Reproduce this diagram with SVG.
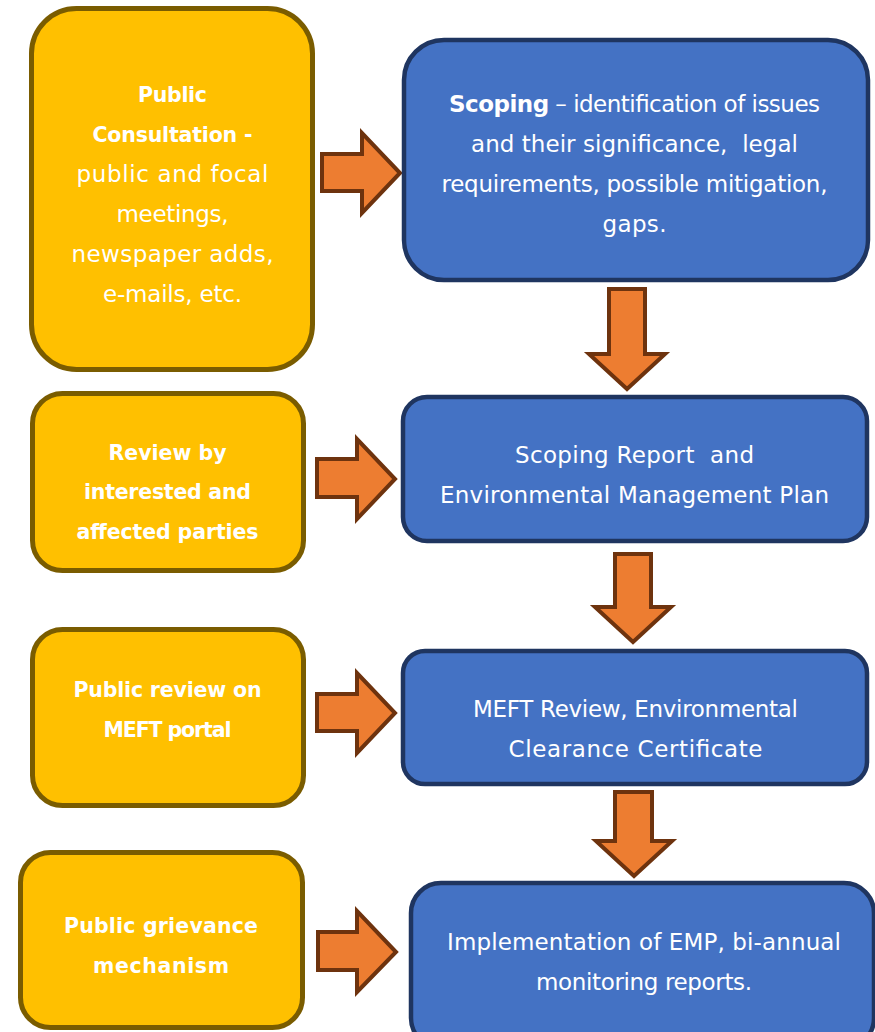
<svg xmlns="http://www.w3.org/2000/svg" width="875" height="1032" viewBox="0 0 875 1032">
<style>
.y{fill:#FFC000;stroke:#7A5C00;stroke-width:5}
.b{fill:#4472C4;stroke:#1F3560;stroke-width:4.5}
.ar{fill:#ED7D31;stroke:#6E330E;stroke-width:4;stroke-linejoin:miter}
text{font-family:"DejaVu Sans","Liberation Sans",sans-serif;fill:#FFFFFF;text-anchor:middle}
.r{font-size:23px}
.bd{font-size:20.5px;font-weight:bold}
</style>
<rect width="875" height="1032" fill="#FFFFFF"/>
<g id="connectors">
<path class="ar" d="M322,154 H362 V133 L400,173 L362,213 V191 H322 Z"/>
<path class="ar" d="M317,459 H357 V439 L395,479 L357,519 V497 H317 Z"/>
<path class="ar" d="M317,694 H357 V673 L395,713 L357,753 V731 H317 Z"/>
<path class="ar" d="M318,932 H357 V911 L396,952 L357,992 V970 H318 Z"/>
<path class="ar" d="M609,289 V354 H589 L627,389 L665,354 H645 V289 Z"/>
<path class="ar" d="M615,554 V607 H595 L633,642 L671,607 H651 V554 Z"/>
<path class="ar" d="M615,792 V841 H596 L634,876 L672,841 H652 V792 Z"/>
</g>
<g id="public-consultation">
<rect class="y" x="31.5" y="8.5" width="281" height="361" rx="45"/>
<text class="bd" x="172.5" y="102" textLength="69" lengthAdjust="spacing">Public</text>
<text class="bd" x="172.5" y="142" textLength="160" lengthAdjust="spacing">Consultation -</text>
<text class="r" x="172.5" y="182" textLength="192" lengthAdjust="spacing">public and focal</text>
<text class="r" x="172.5" y="222" textLength="112" lengthAdjust="spacing">meetings,</text>
<text class="r" x="172.5" y="262" textLength="202" lengthAdjust="spacing">newspaper adds,</text>
<text class="r" x="172.5" y="302" textLength="139" lengthAdjust="spacing">e-mails, etc.</text>
</g>
<g id="scoping">
<rect class="b" x="404" y="40" width="464" height="240" rx="40"/>
<text class="r" x="634.5" y="112" textLength="371" lengthAdjust="spacing"><tspan font-weight="bold">Scoping</tspan> – identification of issues</text>
<text class="r" x="634.5" y="152" textLength="327" lengthAdjust="spacing" xml:space="preserve">and their significance,  legal</text>
<text class="r" x="634.5" y="192" textLength="386" lengthAdjust="spacing">requirements, possible mitigation,</text>
<text class="r" x="634.5" y="232" textLength="64" lengthAdjust="spacing">gaps.</text>
</g>
<g id="review-parties">
<rect class="y" x="32.5" y="393.5" width="271" height="177" rx="30"/>
<text class="bd" x="167.5" y="460" textLength="118" lengthAdjust="spacing">Review by</text>
<text class="bd" x="167.5" y="499" textLength="167" lengthAdjust="spacing">interested and</text>
<text class="bd" x="167.5" y="539" textLength="182" lengthAdjust="spacing">affected parties</text>
</g>
<g id="scoping-report">
<rect class="b" x="403" y="397" width="464" height="144" rx="24"/>
<text class="r" x="634.5" y="463" textLength="239" lengthAdjust="spacing" xml:space="preserve">Scoping Report  and</text>
<text class="r" x="634.5" y="503" textLength="389" lengthAdjust="spacing">Environmental Management Plan</text>
</g>
<g id="public-review">
<rect class="y" x="32.5" y="629.5" width="271" height="176" rx="30"/>
<text class="bd" x="167.5" y="697" textLength="188" lengthAdjust="spacing">Public review on</text>
<text class="bd" x="167.5" y="737" textLength="128" lengthAdjust="spacing">MEFT portal</text>
</g>
<g id="meft-review">
<rect class="b" x="403" y="651" width="464" height="133" rx="22"/>
<text class="r" x="635.5" y="717" textLength="325" lengthAdjust="spacing">MEFT Review, Environmental</text>
<text class="r" x="635.5" y="757" textLength="254" lengthAdjust="spacing">Clearance Certificate</text>
</g>
<g id="grievance">
<rect class="y" x="20.5" y="852.5" width="282" height="175" rx="30"/>
<text class="bd" x="161" y="933" textLength="194" lengthAdjust="spacing">Public grievance</text>
<text class="bd" x="161" y="973" textLength="136" lengthAdjust="spacing">mechanism</text>
</g>
<g id="implementation">
<rect class="b" x="411" y="883" width="463" height="165" rx="30"/>
<text class="r" x="644" y="950" textLength="394" lengthAdjust="spacing">Implementation of EMP, bi-annual</text>
<text class="r" x="644" y="990" textLength="216" lengthAdjust="spacing">monitoring reports.</text>
</g>
</svg>
